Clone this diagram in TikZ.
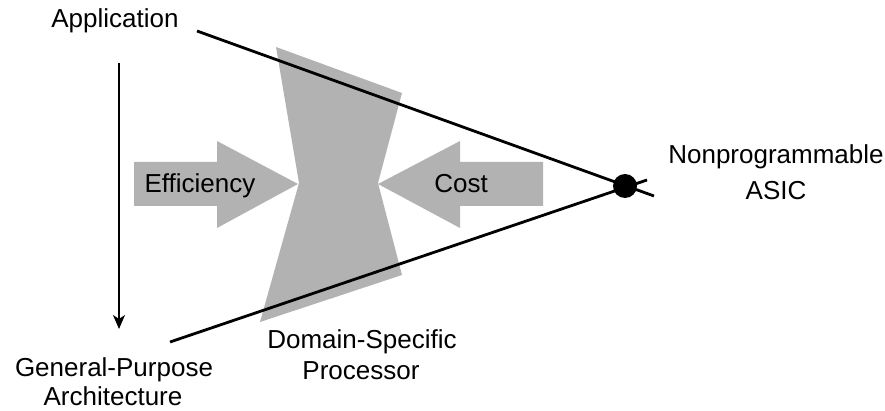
\documentclass[tikz,border=0pt]{standalone}
\usepackage{fontspec}
\setmainfont{Liberation Sans}
\usetikzlibrary{arrows.meta}
\definecolor{shade}{RGB}{178,178,178}
\begin{document}
\begin{tikzpicture}[x=1pt,y=-1pt,
  label/.style={font=\fontsize{26}{31}\selectfont, inner sep=0pt, align=center},
  axisline/.style={line width=2.8pt, line cap=butt},
  shadefill/.style={fill=shade, draw=none}]
\useasboundingbox (0,0) rectangle (885,411);

% hourglass for the domain-specific processor
\fill[shadefill] (276,47) -- (402,93) -- (378,183) -- (402,275) -- (260,322) -- (299,183) -- cycle;

% block arrows
\fill[shadefill] (134,162) -- (217,162) -- (217,141) -- (298,184) -- (217,228) -- (217,206) -- (134,206) -- cycle;
\fill[shadefill] (543,162) -- (460,162) -- (460,141) -- (378,184) -- (460,228) -- (460,206) -- (543,206) -- cycle;
\node[label, anchor=base] (eff) at (200,193) {Efficiency};
\node[label, anchor=base] (cost) at (461,193) {Cost};

% labels
\node[label, anchor=base] (app) at (115,28) {Application};
\node[label, anchor=base] (gp1) at (114,376) {General-Purpose};
\node[label, anchor=base] (gp2) at (113,405) {Architecture};
\node[label, anchor=base] (ds1) at (362,348) {Domain-Specific};
\node[label, anchor=base] (ds2) at (361,379) {Processor};
\node[label, anchor=base] (np1) at (776,164) {Nonprogrammable};
\node[label, anchor=base] (np2) at (776,200) {ASIC};

% the two bounding lines meeting at the ASIC point
\coordinate (u0) at (197,31);
\coordinate (u1) at (654,196);
\coordinate (l0) at (170,342);
\coordinate (l1) at (647,180);
\draw[axisline] (u0) -- (u1);
\draw[axisline] (l0) -- (l1);
\node[circle, fill=black, minimum size=24pt, inner sep=0pt] (asic) at (625,186) {};

% direction from application to general-purpose
\coordinate (vtop) at (119,63);
\coordinate (vbot) at (119,329);
\draw[line width=1.8pt, -{Stealth[length=14pt,width=12pt,inset=4pt]}] (vtop) -- (vbot);
\end{tikzpicture}
\end{document}
